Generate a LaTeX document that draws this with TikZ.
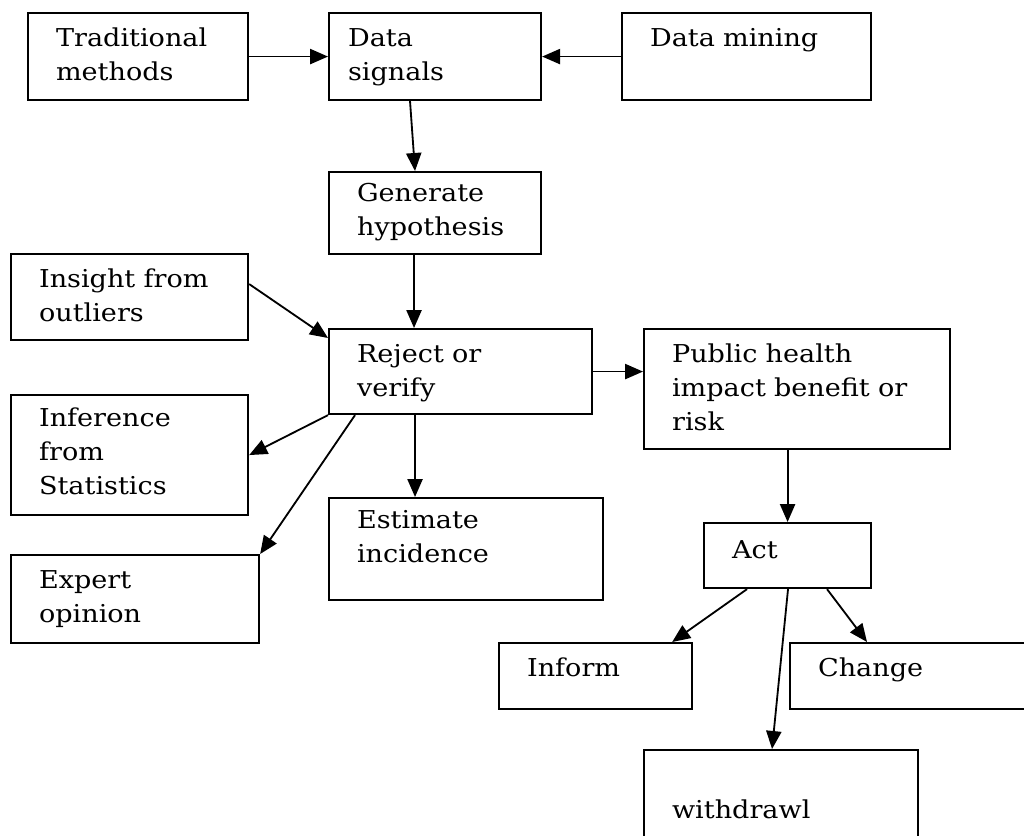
\documentclass[tikz,border=0pt]{standalone}
\usepackage{fontspec}
\setmainfont{DejaVu Serif}[FakeStretch=1.1]
\usetikzlibrary{arrows.meta, positioning, calc}

\begin{document}
\begin{tikzpicture}[
        x=0.025cm, y=-0.025cm,
        stage/.style={rectangle, draw=black, line width=1.5pt, anchor=north west, align=left,
            inner xsep=0.7cm, inner ysep=0pt, text height=0.825cm,
            font=\fontsize{17.5pt}{24.5pt}\selectfont},
        line/.style={draw, line width=1.3pt, -{Triangle[length=0.45cm, width=0.38cm]}}
    ]
        \useasboundingbox (0,0) rectangle (1024,835);
        \clip (0,0) rectangle (1024,835);

        % top row
        \node[stage, text width=4.1cm, text depth=1.35cm] (trad) at (27,12) {Traditional\\methods};
        \node[stage, inner xsep=0.475cm, text width=4.35cm, text depth=1.35cm] (signals) at (328,12) {Data\\signals};
        \node[stage, text width=4.825cm, text depth=1.35cm] (mining) at (621,12) {Data mining};
        \node[stage, text width=3.9cm, text height=0.725cm, text depth=1.325cm] (hypo) at (328,171) {Generate\\hypothesis};

        % middle
        \node[stage, text width=4.525cm, text depth=1.325cm] (outliers) at (10,253) {Insight from\\outliers};
        \node[stage, text width=5.175cm, text depth=1.3cm] (verify) at (328,328) {Reject or\\verify};
        \node[stage, text width=4.525cm, text height=0.775cm, text depth=2.225cm] (stats) at (10,394) {Inference\\from\\Statistics};
        \node[stage, text width=5.45cm, text height=0.75cm, text depth=1.8cm] (incidence) at (328,497) {Estimate\\incidence};
        \node[stage, text width=4.8cm, text depth=1.375cm] (expert) at (10,554) {Expert\\opinion};
        \node[stage, text width=6.25cm, text depth=2.175cm] (health) at (643,328) {Public health\\impact benefit or\\risk};

        % bottom right
        \node[stage, text width=2.775cm, text height=0.875cm, text depth=0.75cm] (act) at (703,522) {Act};
        \node[stage, text width=3.425cm, text depth=0.825cm] (inform) at (498,642) {Inform};
        \node[stage, text width=6.1cm, text depth=0.825cm] (change) at (789,642) {Change};
        \node[stage, text width=5.45cm, text height=1.7cm, text depth=2.05cm] (withdraw) at (643,749) {withdrawl};

        \draw[line] (trad) -- (signals);
        \draw[line] (mining) -- (signals);
        \draw[line] ([xshift=2.05cm]signals.south west) -- ([xshift=2.175cm]hypo.north west);
        \draw[line] ([xshift=2.15cm]hypo.south west) -- ([xshift=2.15cm]verify.north west);
        \draw[line] ([yshift=0.325cm]outliers.east) -- ([yshift=-0.25cm]verify.north west);
        \draw[line] (verify.south west) -- (stats.east);
        \draw[line] ([xshift=0.675cm]verify.south west) -- (expert.north east);
        \draw[line] ([xshift=2.175cm]verify.south west) -- ([xshift=2.175cm]incidence.north west);
        \draw[line] (verify.east) -- (verify.east -| health.west);
        \draw[line] (health.south -| act.north) -- (act.north);
        \draw[line] ([xshift=1.1cm]act.south west) -- ([xshift=-0.525cm]inform.north east);
        \draw[line] ([xshift=2.125cm]act.south west) -- ([xshift=3.225cm]withdraw.north west);
        \draw[line] ([xshift=3.1cm]act.south west) -- ([xshift=1.95cm]change.north west);

    \end{tikzpicture}
\end{document}
